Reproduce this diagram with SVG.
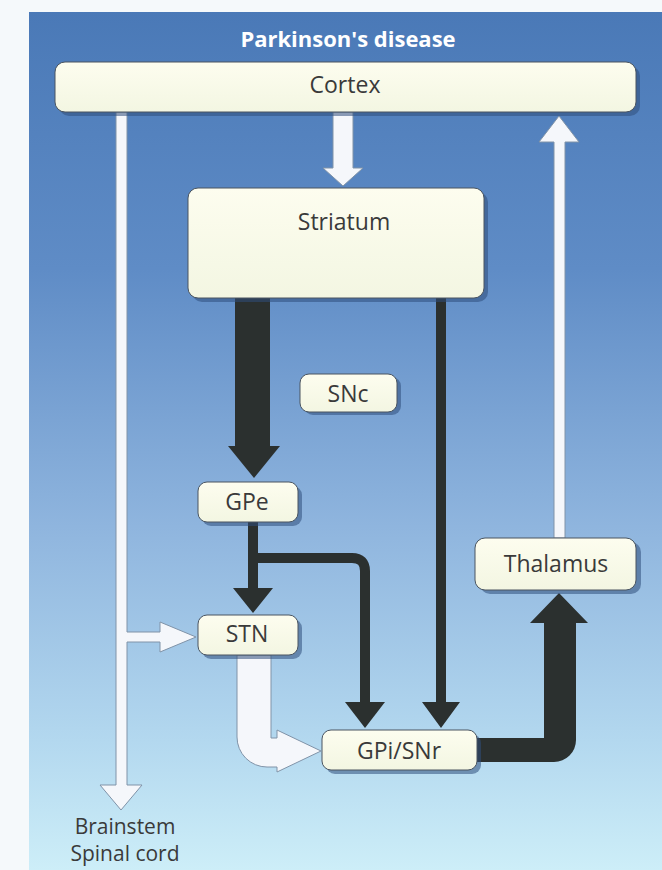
<svg xmlns="http://www.w3.org/2000/svg" width="662" height="870" viewBox="0 0 662 870">
  <defs>
    <linearGradient id="bg" x1="0" y1="0" x2="0" y2="1">
      <stop offset="0" stop-color="#4a79b7"/>
      <stop offset="0.3" stop-color="#5f8cc6"/>
      <stop offset="0.6" stop-color="#8fb5de"/>
      <stop offset="0.85" stop-color="#b3d8ef"/>
      <stop offset="1" stop-color="#cdeef8"/>
    </linearGradient>
    <linearGradient id="box" x1="0" y1="0" x2="0" y2="1">
      <stop offset="0" stop-color="#fdfdef"/>
      <stop offset="1" stop-color="#f3f6e2"/>
    </linearGradient>
  </defs>
  <style>
    .shadow { fill: #2f4f7c; opacity: 0.55; }
    .box { fill: url(#box); stroke: #4b5560; stroke-width: 1; }
    .lbl { font-family: "Open Sans", "DejaVu Sans", sans-serif; font-size: 23px; fill: #3a3a3a; text-anchor: middle; }
    .sm { font-size: 21px; }
    .title { font-family: "Open Sans", "DejaVu Sans", sans-serif; font-size: 22px; font-weight: bold; fill: #ffffff; text-anchor: middle; }
    .white { fill: #f5f7fb; stroke: #8093a8; stroke-width: 1; }
    .black { fill: #2b302f; }
    .blk-line { fill: none; stroke: #2b302f; stroke-width: 10; }
  </style>
  <rect x="0" y="0" width="662" height="870" fill="#f5f9fb"/>
  <rect x="29" y="12" width="633" height="858" fill="url(#bg)"/>
  <text class="title" x="348" y="47">Parkinson's disease</text>

  <g id="connectors">
    <!-- Cortex -> Striatum -->
    <path class="white" d="M333,112 L353,112 L353,168 L363,168 L343,186 L323,168 L333,168 Z"/>
    <!-- Thalamus -> Cortex -->
    <path class="white" d="M554,538 L554,142 L539,142 L559,116 L579,142 L565,142 L565,538 Z"/>
    <!-- Cortex -> Brainstem with branch to STN -->
    <path class="white" d="M116,112 L127,112 L127,632 L160,632 L160,622 L196,637 L160,652 L160,642 L127,642 L127,785 L142,785 L121,810 L100,785 L116,785 Z"/>
    <!-- Striatum -> GPe (thick) -->
    <path class="black" d="M235,298 L270,298 L270,446 L280,446 L254,478 L228,446 L235,446 Z"/>
    <!-- Striatum -> GPi/SNr -->
    <path class="black" d="M436,298 L446,298 L446,702 L460,702 L441,728 L422,702 L436,702 Z"/>
    <!-- GPe -> STN -->
    <path class="black" d="M248,522 L258,522 L258,588 L273,588 L253,613 L233,588 L248,588 Z"/>
    <!-- GPe -> GPi/SNr branch -->
    <path class="blk-line" d="M253,558 L352,558 Q365,558 365,571 L365,704"/>
    <path class="black" d="M345,702 L385,702 L365,728 Z"/>
    <!-- STN -> GPi/SNr (thick white) -->
    <path class="white" d="M237,655 L271,655 L271,738 L277,738 L277,730 L321,751 L277,772 L277,767 L267,767 A30,30 0 0 1 237,737 Z"/>
    <!-- GPi/SNr -> Thalamus (thick black) -->
    <path class="black" d="M477,738 L544,738 L544,623 L530,623 L559,593 L588,623 L576,623 L576,740 A22,22 0 0 1 554,762 L477,762 Z"/>
  </g>

  <g id="cortex">
    <rect class="shadow" x="59" y="66" width="581" height="50" rx="10"/>
    <rect class="box" x="55" y="62" width="581" height="50" rx="10"/>
    <text class="lbl" x="345" y="93">Cortex</text>
  </g>
  <g id="striatum">
    <rect class="shadow" x="192" y="192" width="296" height="110" rx="10"/>
    <rect class="box" x="188" y="188" width="296" height="110" rx="10"/>
    <text class="lbl" x="344" y="230">Striatum</text>
  </g>
  <g id="snc">
    <rect class="shadow" x="304" y="377" width="97" height="38" rx="9"/>
    <rect class="box" x="300" y="374" width="97" height="38" rx="9"/>
    <text class="lbl" x="348" y="402">SNc</text>
  </g>
  <g id="gpe">
    <rect class="shadow" x="202" y="486" width="100" height="40" rx="9"/>
    <rect class="box" x="198" y="482" width="100" height="40" rx="9"/>
    <text class="lbl" x="247" y="510">GPe</text>
  </g>
  <g id="stn">
    <rect class="shadow" x="202" y="619" width="100" height="40" rx="9"/>
    <rect class="box" x="198" y="615" width="100" height="40" rx="9"/>
    <text class="lbl" x="247" y="642">STN</text>
  </g>
  <g id="gpi-snr">
    <rect class="shadow" x="326" y="734" width="155" height="40" rx="9"/>
    <rect class="box" x="322" y="730" width="155" height="40" rx="9"/>
    <text class="lbl" x="399" y="759">GPi/SNr</text>
  </g>
  <g id="thalamus">
    <rect class="shadow" x="480" y="542" width="161" height="52" rx="10"/>
    <rect class="box" x="475" y="538" width="161" height="52" rx="10"/>
    <text class="lbl" x="556" y="572">Thalamus</text>
  </g>
  <g id="brainstem">
    <text class="lbl sm" x="125" y="834">Brainstem</text>
    <text class="lbl sm" x="125" y="861">Spinal cord</text>
  </g>
</svg>
